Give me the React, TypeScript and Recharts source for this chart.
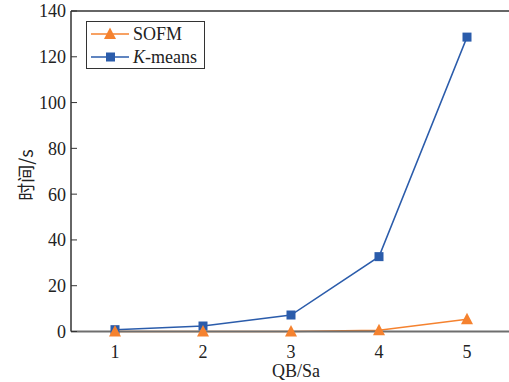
import { Line, LineChart, ReferenceLine, XAxis, YAxis } from "recharts";

const categories = [1, 2, 3, 4, 5];
const sofmTimes = [0, 0, 0, 0.6, 5.3];
const kmeansTimes = [0.8, 2.4, 7.2, 32.7, 128.6];
const yTicks = [0, 20, 40, 60, 80, 100, 120, 140];

const data = categories.map((qb, i) => ({
  qb,
  sofm: sofmTimes[i],
  kmeans: kmeansTimes[i],
}));

const ORANGE = "#f5822f";
const BLUE = "#2b5cab";
const SERIF = "'Liberation Serif', 'Times New Roman', serif";

const TriangleDot = (props: any) => {
  const { cx, cy, index } = props;
  if (cx == null || cy == null) return null;
  return (
    <path
      key={"t" + index}
      d={`M${cx},${cy - 6.5} L${cx + 6},${cy + 5} L${cx - 6},${cy + 5} Z`}
      fill={ORANGE}
    />
  );
};

const SquareDot = (props: any) => {
  const { cx, cy, index } = props;
  if (cx == null || cy == null) return null;
  return (
    <rect key={"s" + index} x={cx - 4.5} y={cy - 4.5} width={9} height={9} fill={BLUE} />
  );
};

const YLabel = () => (
  <text
    x={25}
    y={175}
    transform="rotate(-90, 25, 175)"
    textAnchor="middle"
    dominantBaseline="central"
    fontSize={18}
    fontFamily="'Noto Sans CJK SC', sans-serif"
    fill="#222"
  >
    时间/s
  </text>
);

const LegendBox = () => (
  <div
    style={{
      position: "absolute",
      left: 86,
      top: 21,
      width: 117,
      height: 46,
      border: "1px solid #333",
      background: "#fff",
      fontFamily: SERIF,
      fontSize: 18,
      color: "#222",
    }}
  >
    <svg width={117} height={46} style={{ position: "absolute", left: 0, top: 0 }}>
      <line x1={4} y1={12} x2={42} y2={12} stroke={ORANGE} strokeWidth={1.5} />
      <path d="M23,5.5 L29,17 L17,17 Z" fill={ORANGE} />
      <line x1={4} y1={35} x2={42} y2={35} stroke={BLUE} strokeWidth={1.5} />
      <rect x={19} y={30.5} width={9} height={9} fill={BLUE} />
      <text x={46} y={18} fontSize={18} fontFamily={SERIF} fill="#222">
        SOFM
      </text>
      <text x={46} y={41} fontSize={18} fontFamily={SERIF} fill="#222">
        <tspan fontStyle="italic">K</tspan>-means
      </text>
    </svg>
  </div>
);

export default function App() {
  return (
    <div
      style={{
        position: "absolute",
        left: 0,
        top: 0,
        width: 509,
        height: 382,
        overflow: "hidden",
        background: "#fff",
      }}
    >
      <LineChart
        width={530}
        height={382}
        data={data}
        margin={{ top: 11, right: 19, bottom: 0, left: 0 }}
      >
        <XAxis
          dataKey="qb"
          type="number"
          domain={[0.5, 5.5]}
          ticks={categories}
          height={50.5}
          tickLine={false}
          tickMargin={8}
          axisLine={{ stroke: "#6e6e6e", strokeWidth: 2 }}
          tick={{ fontSize: 18, fontFamily: SERIF, fill: "#222" }}
          label={{
            value: "QB/Sa",
            position: "insideBottom",
            offset: 5,
            dx: 5,
            fontSize: 18,
            fontFamily: SERIF,
            fill: "#222",
          }}
        />
        <YAxis
          type="number"
          domain={[0, 140]}
          ticks={yTicks}
          width={71}
          tickSize={-6}
          tickMargin={11}
          interval={0}
          axisLine={{ stroke: "#333", strokeWidth: 1.5 }}
          tickLine={{ stroke: "#333" }}
          tick={{ fontSize: 18, fontFamily: SERIF, fill: "#222" }}
          label={<YLabel />}
        />
        <ReferenceLine y={140} stroke="#333" strokeWidth={1.5} />
        <Line
          type="linear"
          dataKey="kmeans"
          stroke={BLUE}
          strokeWidth={1.5}
          dot={<SquareDot />}
          isAnimationActive={false}
        />
        <Line
          type="linear"
          dataKey="sofm"
          stroke={ORANGE}
          strokeWidth={1.5}
          dot={<TriangleDot />}
          isAnimationActive={false}
        />
      </LineChart>
      <LegendBox />
    </div>
  );
}
